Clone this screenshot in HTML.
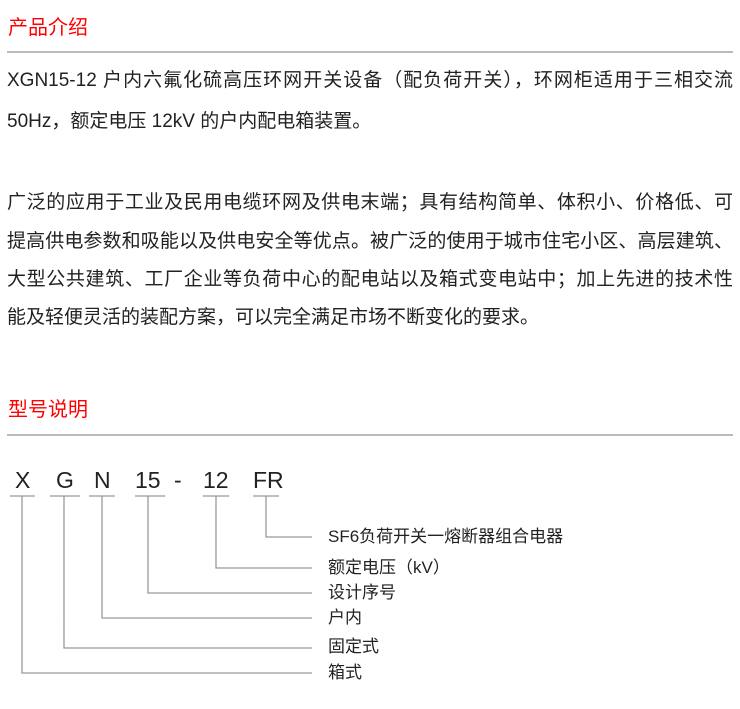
<!DOCTYPE html>
<html><head><meta charset="utf-8"><style>
body{margin:0;width:740px;height:709px;background:#fff;position:relative;overflow:hidden;font-family:"Liberation Sans","Noto Sans CJK SC",sans-serif;color:#222}
.h{position:absolute;left:8px;font-size:20px;color:#f00;line-height:24px}
.hr{position:absolute;left:7px;width:726px;height:2px;background:#bbb}
.l{position:absolute;left:7px;width:726px;font-size:19px;line-height:24px;text-align:justify;text-align-last:justify;white-space:nowrap;color:#222}
.k{position:absolute;font-size:23px;line-height:28px;font-family:"Liberation Sans",sans-serif;color:#222}
.lab{position:absolute;left:328px;font-size:17px;line-height:20px;color:#222}
</style></head><body>
<div class="h" style="top:16px">产品介绍</div>
<div class="hr" style="top:51px"></div>
<div class="l" style="top:69px">XGN15-12 户内六氟化硫高压环网开关设备（配负荷开关），环网柜适用于三相交流</div>
<div class="l" style="top:110px;width:auto;text-align:left;letter-spacing:0">50Hz，额定电压 12kV 的户内配电箱装置。</div>
<div class="l" style="top:191px">广泛的应用于工业及民用电缆环网及供电末端；具有结构简单、体积小、价格低、可</div>
<div class="l" style="top:230px">提高供电参数和吸能以及供电安全等优点。被广泛的使用于城市住宅小区、高层建筑、</div>
<div class="l" style="top:268px">大型公共建筑、工厂企业等负荷中心的配电站以及箱式变电站中；加上先进的技术性</div>
<div class="l" style="top:306px;width:auto;text-align:left;letter-spacing:0">能及轻便灵活的装配方案，可以完全满足市场不断变化的要求。</div>
<div class="h" style="top:398px">型号说明</div>
<div class="hr" style="top:434px"></div>
<div class="k" style="left:15px;top:466px">X</div>
<div class="k" style="left:56px;top:466px">G</div>
<div class="k" style="left:94px;top:466px">N</div>
<div class="k" style="left:135px;top:466px">15</div>
<div class="k" style="left:174px;top:466px">-</div>
<div class="k" style="left:203px;top:466px">12</div>
<div class="k" style="left:253px;top:466px">FR</div>
<svg width="740" height="709" style="position:absolute;left:0;top:0" fill="none" stroke="#999" stroke-width="1.3">
<path d="M10 496H35M50 496H80M89 496H115M135 496H165M203 496H229M253 496H279"/>
<path d="M266 496V537H312M216 496V568H312M148 496V593H312M102 496V618H312M64 496V648H312M22 496V673H312"/>
</svg>
<div class="lab" style="top:527px">SF6负荷开关一熔断器组合电器</div>
<div class="lab" style="top:558px">额定电压（kV）</div>
<div class="lab" style="top:583px">设计序号</div>
<div class="lab" style="top:608px">户内</div>
<div class="lab" style="top:637px">固定式</div>
<div class="lab" style="top:663px">箱式</div>
</body></html>
